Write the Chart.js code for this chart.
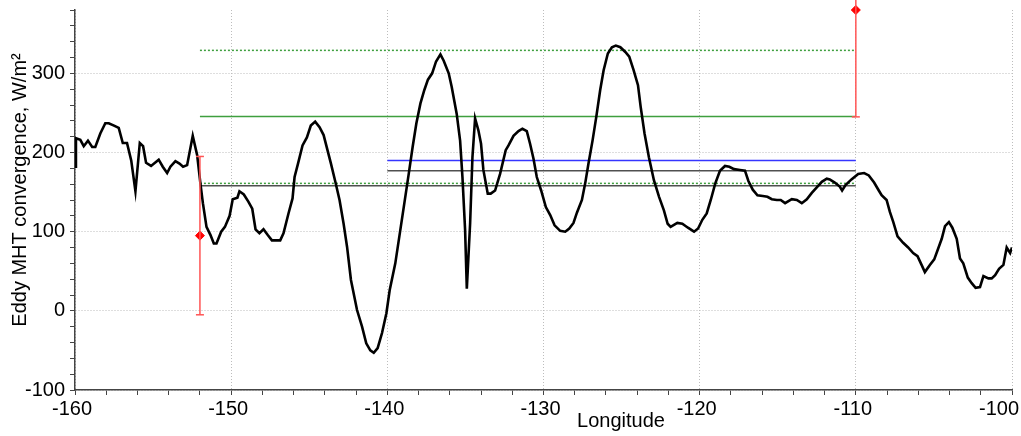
<!DOCTYPE html>
<html>
<head>
<meta charset="utf-8">
<script src="https://cdn.jsdelivr.net/npm/chart.js@4"></script>
<style>
html,body{margin:0;padding:0;background:#fff;}
canvas{display:block;}
</style>
</head>
<body>
<canvas id="c" width="1021" height="436"></canvas>
<script>
// ---- data ----
const longitudes = [-160.0,-159.94,-159.66,-159.44,-159.17,-158.9,-158.7,-158.38,-158.06,-157.84,-157.5,-157.2,-156.94,-156.67,-156.4,-156.13,-155.85,-155.64,-155.45,-155.13,-154.64,-154.38,-154.1,-153.89,-153.57,-153.31,-153.08,-152.82,-152.46,-152.18,-151.97,-151.81,-151.58,-151.33,-151.11,-150.94,-150.64,-150.4,-150.1,-149.9,-149.6,-149.47,-149.19,-148.9,-148.65,-148.44,-148.19,-147.93,-147.67,-147.39,-146.86,-146.65,-146.33,-146.07,-145.94,-145.72,-145.43,-145.15,-144.9,-144.62,-144.34,-144.08,-143.61,-143.33,-143.06,-142.8,-142.58,-142.33,-141.94,-141.62,-141.35,-141.09,-140.87,-140.62,-140.34,-140.06,-139.85,-139.49,-139.17,-138.91,-138.63,-138.38,-138.14,-137.88,-137.63,-137.4,-137.13,-136.88,-136.6,-136.39,-136.07,-135.88,-135.56,-135.34,-135.19,-135.02,-134.91,-134.7,-134.55,-134.38,-134.17,-134.0,-133.85,-133.57,-133.38,-133.1,-132.78,-132.42,-132.24,-131.92,-131.6,-131.35,-131.07,-130.86,-130.64,-130.43,-130.15,-129.85,-129.57,-129.29,-128.93,-128.61,-128.35,-128.08,-127.86,-127.54,-127.33,-127.12,-126.86,-126.62,-126.37,-126.15,-125.88,-125.62,-125.37,-125.08,-124.76,-124.51,-124.23,-123.95,-123.78,-123.53,-123.25,-122.93,-122.6,-122.29,-122.05,-121.86,-121.43,-121.11,-120.75,-120.36,-120.1,-119.83,-119.55,-119.29,-119.0,-118.7,-118.38,-118.1,-117.8,-117.42,-117.1,-116.88,-116.6,-116.3,-115.96,-115.66,-115.38,-115.06,-114.81,-114.53,-114.1,-113.78,-113.46,-113.14,-112.82,-112.5,-112.18,-111.86,-111.67,-111.35,-111.03,-110.88,-110.66,-110.28,-109.85,-109.47,-109.17,-108.83,-108.53,-108.35,-108.03,-107.82,-107.6,-107.33,-106.97,-106.65,-106.33,-106.05,-105.79,-105.58,-105.26,-104.98,-104.72,-104.5,-104.29,-104.04,-103.82,-103.54,-103.33,-103.12,-102.83,-102.58,-102.33,-102.05,-101.83,-101.51,-101.3,-101.08,-100.83,-100.55,-100.34,-100.12,-100.0];
const convergence = [182,218,216,208,215,207,207,224,237,237,234,231,212,212,190,151,212,208,187,183,191,182,174,182,189,186,182,184,221,197,161,136,106,96,85,85,100,106,120,141,143,151,147,138,129,103,98,103,96,89,89,98,123,142,169,186,209,219,234,239,232,222,186,163,140,110,81,39,1,-20,-41,-50,-53,-47,-28,-3,26,60,102,136,173,207,237,262,279,292,300,315,324,316,300,283,249,215,169,102,28,110,194,243,228,211,178,148,148,152,173,203,209,221,227,230,227,211,192,169,152,131,121,108,101,100,104,111,124,140,161,186,215,245,279,304,325,333,335,333,327,321,304,285,258,224,194,165,144,127,110,106,111,110,105,100,104,115,123,140,161,177,183,182,179,178,177,164,153,146,145,144,141,140,140,136,141,140,136,141,149,156,163,167,166,162,157,152,159,166,173,174,171,162,152,146,140,125,112,94,86,80,73,69,58,49,58,65,79,91,107,112,105,91,66,60,42,35,29,30,44,41,41,45,53,58,80,73,80];

// horizontal reference levels: [value, startLon, endLon]
const greenMean = [245.5, -152, -110];
const greenUpper = [329, -152, -110];
const greenLower = [161, -152, -110];
const grayWide = [158, -152, -110];
const blueLevel = [190, -140, -110];
const grayShort = [177, -140, -110];

// error bars: [lon, value, halfWidth]
const errorBars = [[-152, 95, 100], [-110, 380, 135]];

const xTicks = {min: -160, max: -100, step: 2, labelEvery: 10};
const yTicks = {min: -100, max: 380, step: 20, labelEvery: 100};

// ---- build datasets ----
const curve = longitudes.map((x, i) => ({x, y: convergence[i]}));
function hline(l, color, dash) {
  return {
    data: [{x: l[1], y: l[0]}, {x: l[2], y: l[0]}],
    borderColor: color, borderWidth: 1.5, borderDash: dash || [],
    pointRadius: 0, showLine: true, fill: false, order: 5
  };
}
const datasets = [
  hline(greenUpper, '#3f9f3f', [2, 2]),
  hline(greenMean, '#3f9f3f'),
  hline(greenLower, '#3f9f3f', [2, 2]),
  hline(grayWide, '#505050'),
  hline(blueLevel, '#3535ff'),
  hline(grayShort, '#505050'),
  {
    data: curve, borderColor: '#000', borderWidth: 2.6, pointRadius: 0,
    showLine: true, fill: false, tension: 0, order: 1
  }
];
errorBars.forEach(e => {
  datasets.push({
    data: [{x: e[0], y: e[1] - e[2]}, {x: e[0], y: e[1] + e[2]}],
    borderColor: '#ff5555', borderWidth: 1.5, showLine: true,
    pointStyle: 'line', pointRadius: 4, pointBorderColor: '#ff5555', pointBorderWidth: 1.5,
    clip: false, order: 0
  });
  datasets.push({
    data: [{x: e[0], y: e[1]}], showLine: false,
    pointStyle: 'rectRot', pointRadius: 4.5, pointBackgroundColor: '#ff0000',
    pointBorderColor: '#ff0000', pointBorderWidth: 1, clip: false, order: 0
  });
});

const FONT = "'Liberation Sans', Arial, sans-serif";

const titlePlugin = {
  id: 'axisTitles',
  afterDraw(chart) {
    const ctx = chart.ctx;
    ctx.save();
    ctx.fillStyle = '#000';
    ctx.font = '20px ' + FONT;
    // last x tick label kept inside the canvas, as in the original
    const xs = chart.scales.x;
    ctx.textAlign = 'right';
    ctx.textBaseline = 'alphabetic';
    ctx.fillText(String(xTicks.max), 1019, 415);
    ctx.textAlign = 'center';
    ctx.fillText('Longitude', 621, 427);
    ctx.translate(26, 190);
    ctx.rotate(-Math.PI / 2);
    ctx.fillText('Eddy MHT convergence, W/m\u00B2', 0, 0);
    ctx.restore();
  }
};

new Chart(document.getElementById('c'), {
  type: 'scatter',
  data: {datasets},
  options: {
    responsive: false,
    animation: false,
    devicePixelRatio: 1,
    layout: {padding: {top: 10, right: 9, left: 0, bottom: 0}},
    plugins: {legend: {display: false}, tooltip: {enabled: false}},
    scales: {
      x: {
        type: 'linear', min: xTicks.min, max: xTicks.max,
        afterFit(s) { s.height = 46; s.paddingLeft = 0; s.paddingRight = 0; },
        ticks: {
          stepSize: xTicks.step, autoSkip: false, maxRotation: 0, padding: 2, labelOffset: -3,
          color: '#000', font: {family: FONT, size: 20},
          callback: v => {
            const r = Math.round(v);
            return (r % xTicks.labelEvery === 0 && r !== xTicks.max) ? String(r) : '';
          }
        },
        grid: {
          color: c => (Math.round(c.tick.value) % xTicks.labelEvery === 0 ? '#bdbdbd' : 'rgba(0,0,0,0)'),
          lineWidth: 1, tickColor: '#444', tickLength: 5, tickWidth: 1
        },
        border: {color: '#444', width: 1.5, dash: [1, 2]}
      },
      y: {
        type: 'linear', min: yTicks.min, max: yTicks.max,
        afterFit(s) { s.width = 75; s.paddingTop = 0; s.paddingBottom = 0; },
        ticks: {
          stepSize: yTicks.step, autoSkip: false, padding: 5,
          color: '#000', font: {family: FONT, size: 20},
          callback: v => (Math.round(v) % yTicks.labelEvery === 0 ? String(Math.round(v)) : '')
        },
        grid: {
          color: c => (Math.round(c.tick.value) % yTicks.labelEvery === 0 ? '#bdbdbd' : 'rgba(0,0,0,0)'),
          lineWidth: 1, tickColor: '#444', tickLength: 5, tickWidth: 1
        },
        border: {color: '#444', width: 1.5, dash: [1, 2]}
      }
    }
  },
  plugins: [titlePlugin]
});
</script>
</body>
</html>
